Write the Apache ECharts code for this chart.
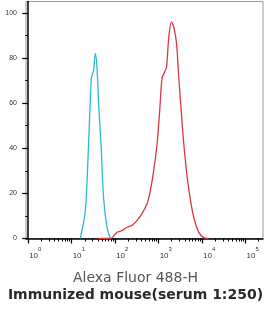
<!DOCTYPE html>
<html><head><meta charset="utf-8">
<script src="https://cdn.jsdelivr.net/npm/echarts@6/dist/echarts.min.js"></script>
<style>html,body{margin:0;padding:0;background:#fff}#c{width:271px;height:313px}</style>
</head><body><div id="c"></div>
<script>
// Fluorescence intensity (linear units) and % of max counts
const cyanIntensity = [15.8, 20.6, 24.5, 28.3, 30.3, 32, 35, 38.3, 41.7, 47.3, 54.3, 65, 77.4];
const cyanCount     = [0, 12.4, 42, 71, 73, 74.5, 82, 75.6, 59.6, 41.7, 17.7, 4.9, 0];
const redIntensity = [40, 77, 111, 144, 188, 245, 320, 417, 543, 647, 771, 923, 1059, 1202, 1361, 1514, 1710, 1972, 2228, 2570, 2904, 3296, 3784, 4539, 5408, 6442, 8395, 10940, 14030];
const redCount     = [0, 0, 2.8, 3.5, 5.0, 5.8, 8.0, 11.1, 15.5, 21.3, 30.2, 42.1, 56.8, 71.4, 73.6, 75.8, 89.1, 96.0, 93.8, 86.7, 71.4, 56.8, 42.1, 27.1, 16.9, 9.3, 2.7, 0.4, 0];
const yTicks = [0, 20, 40, 60, 80, 100];
const xDecades = [0, 1, 2, 3, 4, 5];
const xTitle = 'Alexa Fluor 488-H';
const chartTitle = 'Immunized mouse(serum 1:250)';

const lg = v => Math.log10(v);
const pairs = (xs, ys) => xs.map((x, i) => [lg(x), ys[i]]);
const minorX = [];
for (let d = 0; d <= 5; d++) for (let k = 2; k <= 9; k++) { const v = d + Math.log10(k); if (v <= 5.4) minorX.push(v); }

const chart = echarts.init(document.getElementById('c'), null, {renderer: 'canvas'});
const baseAxis = {type: 'value', min: -0.05, max: 5.4, position: 'bottom', splitLine: {show: false}};
chart.setOption({
  animation: false,
  title: [
    {text: xTitle, left: 'center', top: 266, textStyle: {fontFamily: 'DejaVu Sans', fontSize: 14, fontWeight: 'normal', color: '#555'}},
    {text: chartTitle, left: 'center', top: 283, textStyle: {fontFamily: 'DejaVu Sans', fontSize: 14, fontWeight: 'bold', color: '#2a2a2a'}}
  ],
  grid: {left: 26, right: 8, top: 1.5, bottom: 74.5, show: true, borderColor: '#999', borderWidth: 1},
  xAxis: [
    Object.assign({}, baseAxis, {
      axisLine: {show: true, lineStyle: {color: '#000', width: 1.5}},
      axisTick: {show: true, length: 5, customValues: xDecades, lineStyle: {color: '#000', width: 1.2}},
      axisLabel: {show: true, customValues: xDecades, align: 'left', margin: 6,
        formatter: v => '{b|10}{s|' + Math.round(v) + '}',
        rich: {b: {fontFamily: 'Liberation Sans', fontSize: 8, color: '#333', padding: [7, 0, 0, 1]},
               s: {fontFamily: 'Liberation Sans', fontSize: 6, color: '#333', padding: [0, 0, 5, 0]}}}
    }),
    Object.assign({}, baseAxis, {
      axisLine: {show: false},
      axisTick: {show: true, length: 3, customValues: minorX, lineStyle: {color: '#000', width: 1}},
      axisLabel: {show: false}
    })
  ],
  yAxis: {
    type: 'value', min: 0, max: 105, splitLine: {show: false},
    axisLine: {show: true, lineStyle: {color: '#000', width: 1.5}},
    axisTick: {show: true, length: 6, customValues: yTicks, lineStyle: {color: '#000', width: 1.2}},
    minorTick: {show: true, splitNumber: 2, length: 3, lineStyle: {color: '#000', width: 1}},
    axisLabel: {show: true, customValues: yTicks, margin: 9, fontFamily: 'Liberation Sans', fontSize: 7, color: '#333'}
  },
  series: [
    {type: 'line', data: pairs(cyanIntensity, cyanCount), smooth: 0.3, symbol: 'none', lineStyle: {color: '#2fb7d6', width: 1.3}},
    {type: 'line', data: pairs(redIntensity, redCount), smooth: 0.3, symbol: 'none', lineStyle: {color: '#d9393f', width: 1.3}}
  ]
});
</script></body></html>
